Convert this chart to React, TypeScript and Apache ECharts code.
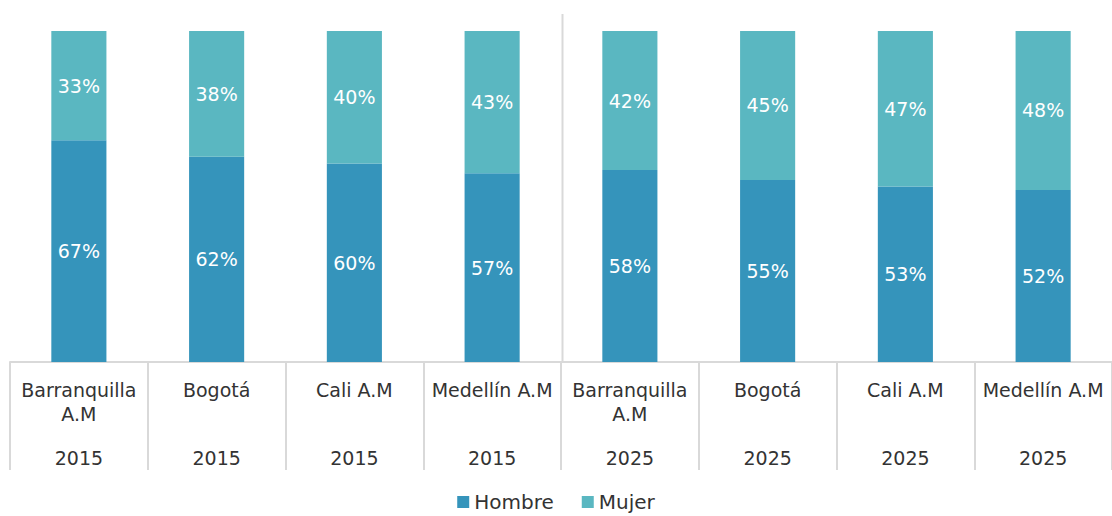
import React, { useEffect, useRef } from "react";
import * as echarts from "echarts";

const cities = ["Barranquilla\nA.M", "Bogotá", "Cali A.M", "Medellín A.M", "Barranquilla\nA.M", "Bogotá", "Cali A.M", "Medellín A.M"];
const years = ["2015", "2015", "2015", "2015", "2025", "2025", "2025", "2025"];
const hombre = [67, 62, 60, 57, 58, 55, 53, 52];
const mujer = [33, 38, 40, 43, 42, 45, 47, 48];

const FONT = '"DejaVu Sans", sans-serif';
const GRID_LEFT = 10;
const GRID_RIGHT = -2;
const W = 1112;

export default function App() {
  const ref = useRef<HTMLDivElement>(null);
  useEffect(() => {
    const chart = echarts.init(ref.current!, undefined, { renderer: "svg" });
    const catW = (W - GRID_LEFT - GRID_RIGHT) / cities.length;
    const sepX = Math.round(GRID_LEFT + catW * 4) + 0.5;
    const labelStyle = {
      show: true,
      position: "inside",
      color: "#ffffff",
      fontFamily: FONT,
      fontWeight: "normal",
      fontSize: 19,
      formatter: (p: any) => p.value + "%",
    };
    const axisText = {
      fontFamily: FONT,
      fontSize: 19,
      lineHeight: 24,
      color: "#333333",
      fontWeight: "normal",
    };
    chart.setOption({
      animation: false,
      grid: { left: GRID_LEFT, right: GRID_RIGHT, top: 31, bottom: 154, containLabel: false },
      legend: {
        bottom: -1,
        left: "center",
        itemWidth: 12,
        itemHeight: 12,
        itemGap: 28,
        icon: "rect",
        textStyle: { fontFamily: FONT, fontSize: 20, color: "#333333" },
        data: ["Hombre", "Mujer"],
      },
      xAxis: [
        {
          type: "category",
          data: cities,
          position: "bottom",
          axisLine: { show: true, lineStyle: { color: "#d9d9d9", width: 2 } },
          axisTick: { show: true, length: 108, lineStyle: { color: "#d9d9d9", width: 2 } },
          axisLabel: { interval: 0, margin: 16, ...axisText },
        },
        {
          type: "category",
          data: years,
          position: "bottom",
          offset: 80,
          axisLine: { show: false },
          axisTick: { show: false },
          axisLabel: { interval: 0, margin: 4, ...axisText },
        },
      ],
      yAxis: { type: "value", min: 0, max: 100, show: false, splitLine: { show: false } },
      series: [
        {
          name: "Hombre",
          type: "bar",
          stack: "t",
          barWidth: "40%",
          data: hombre,
          itemStyle: { color: "#3594bb" },
          label: labelStyle,
        },
        {
          name: "Mujer",
          type: "bar",
          stack: "t",
          barWidth: "40%",
          data: mujer,
          itemStyle: { color: "#5ab7c1" },
          label: labelStyle,
        },
      ],
      graphic: [
        {
          type: "line",
          shape: { x1: sepX, y1: 14, x2: sepX, y2: 362 },
          style: { stroke: "#d9d9d9", lineWidth: 2 },
          silent: true,
        },
      ],
    });
    return () => chart.dispose();
  }, []);
  return <div ref={ref} style={{ position: "absolute", left: 0, top: 0, width: 1112, height: 516 }} />;
}
